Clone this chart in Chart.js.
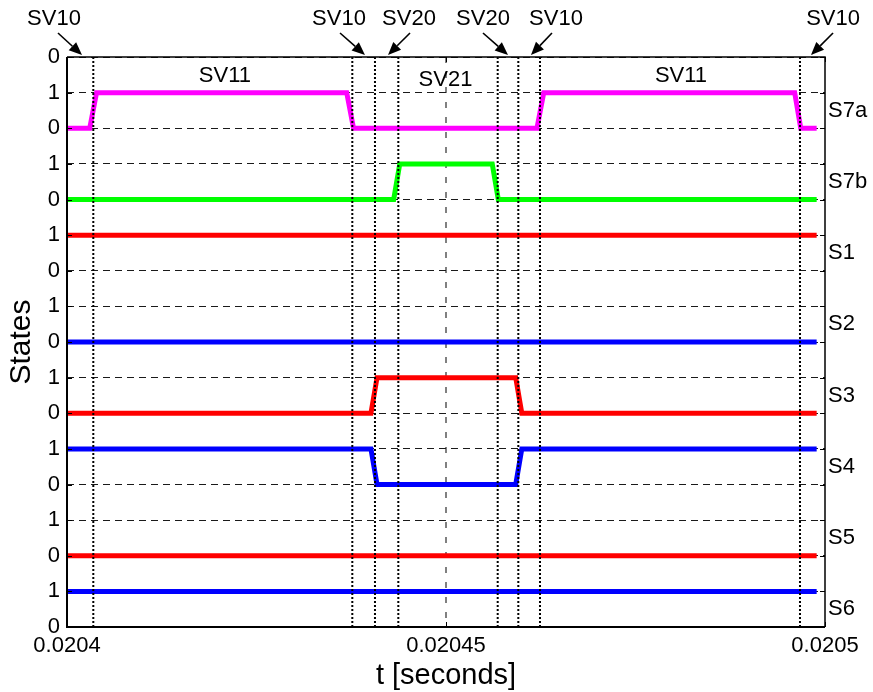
<!DOCTYPE html>
<html>
<head>
<meta charset="utf-8">
<script src="https://cdn.jsdelivr.net/npm/chart.js@4/dist/chart.umd.min.js"></script>
<style>
  html, body { margin: 0; padding: 0; background: #fff; }
  #wrap { width: 873px; height: 692px; }
</style>
</head>
<body>
<div id="wrap"><canvas id="c" width="873" height="692"></canvas></div>
<script>
// ---- axis ticks ----
const xTickValues = [0.0204, 0.02045, 0.0205];
const xTickLabels = ['0.0204', '0.02045', '0.0205'];
const yTickLabels = ['0','1','0','1','0','1','0','1','0','1','0','1','0','1','0','1','0'];

// ---- switching signals: sample times [s] and logic states ----
const signalNames = ['S7a', 'S7b', 'S1', 'S2', 'S3', 'S4', 'S5', 'S6'];
const signalBase  = [14, 12, 10, 8, 6, 4, 2, 0];

const tS7a = [0.0204, 0.0204030, 0.0204039, 0.0204369, 0.0204378, 0.0204620, 0.0204629, 0.0204960, 0.0204968, 0.0204989];
const vS7a = [0, 0, 1, 1, 0, 0, 1, 1, 0, 0];
const tS7b = [0.0204, 0.0204431, 0.0204439, 0.0204561, 0.0204569, 0.0204989];
const vS7b = [0, 0, 1, 1, 0, 0];
const tS1  = [0.0204, 0.0204989];
const vS1  = [1, 1];
const tS2  = [0.0204, 0.0204989];
const vS2  = [0, 0];
const tS3  = [0.0204, 0.0204401, 0.0204409, 0.0204592, 0.0204600, 0.0204989];
const vS3  = [0, 0, 1, 1, 0, 0];
const tS4  = [0.0204, 0.0204401, 0.0204409, 0.0204592, 0.0204600, 0.0204989];
const vS4  = [1, 1, 0, 0, 1, 1];
const tS5  = [0.0204, 0.0204989];
const vS5  = [0, 0];
const tS6  = [0.0204, 0.0204989];
const vS6  = [1, 1];

// switching instants between space vectors
const switchTimes = [0.02040347, 0.02043764, 0.02044063, 0.02044371, 0.02045682, 0.02045954, 0.0204624, 0.0204967];

// ---- styling ----
const signalColors = ['#ff00ff', '#00ff00', '#ff0000', '#0000ff', '#ff0000', '#0000ff', '#ff0000', '#0000ff'];
const FONT = "'Liberation Sans', Arial, sans-serif";

const signalTimes  = [tS7a, tS7b, tS1, tS2, tS3, tS4, tS5, tS6];
const signalStates = [vS7a, vS7b, vS1, vS2, vS3, vS4, vS5, vS6];

const datasets = [];
switchTimes.forEach(t => {
  datasets.push({
    data: [{ x: t, y: 0 }, { x: t, y: 16 }],
    borderColor: '#000', borderWidth: 2, borderDash: [2, 2],
    pointRadius: 0, order: 0
  });
});
signalNames.forEach((name, i) => {
  datasets.push({
    label: name,
    data: signalTimes[i].map((t, k) => ({ x: t, y: signalBase[i] + signalStates[i][k] })),
    borderColor: signalColors[i], borderWidth: 5,
    borderJoinStyle: 'miter', borderCapStyle: 'butt',
    pointRadius: 0, tension: 0, order: 1
  });
});

// text annotations
const regionText = [
  { text: 'SV11', t: 0.02042084, y: 15.47 },
  { text: 'SV21', t: 0.02044993, y: 15.35 },
  { text: 'SV11', t: 0.0204810,  y: 15.47 }
];
const vectorArrows = [
  { text: 'SV10', textT: 0.02039828, tailT: 0.02039881, tipT: 0.02040198 },
  { text: 'SV10', textT: 0.02043588, tailT: 0.02043602, tipT: 0.02043931 },
  { text: 'SV20', textT: 0.02044512, tailT: 0.02044525, tipT: 0.02044235 },
  { text: 'SV20', textT: 0.02045488, tailT: 0.02045488, tipT: 0.02045818 },
  { text: 'SV10', textT: 0.02046451, tailT: 0.02046398, tipT: 0.02046121 },
  { text: 'SV10', textT: 0.02050106, tailT: 0.02050106, tipT: 0.02049815 }
];

function arrow(ctx, x1, y1, x2, y2) {
  const a = Math.atan2(y2 - y1, x2 - x1);
  const L = 13, W = 5.5;
  ctx.beginPath();
  ctx.moveTo(x1, y1);
  ctx.lineTo(x2 - L * Math.cos(a), y2 - L * Math.sin(a));
  ctx.lineWidth = 1.6; ctx.strokeStyle = '#000'; ctx.stroke();
  ctx.beginPath();
  ctx.moveTo(x2, y2);
  ctx.lineTo(x2 - L * Math.cos(a) + W * Math.sin(a), y2 - L * Math.sin(a) - W * Math.cos(a));
  ctx.lineTo(x2 - L * Math.cos(a) - W * Math.sin(a), y2 - L * Math.sin(a) + W * Math.cos(a));
  ctx.closePath(); ctx.fillStyle = '#000'; ctx.fill();
}

const decor = {
  id: 'decor',
  afterDatasetsDraw(chart) {
    const { ctx, chartArea: a, scales: { x, y } } = chart;
    ctx.save();
    // inward ticks
    ctx.strokeStyle = '#000'; ctx.lineWidth = 1;
    y.ticks.forEach(tk => {
      const py = Math.round(y.getPixelForValue(tk.value)) + 0.5;
      ctx.beginPath();
      ctx.moveTo(a.left, py); ctx.lineTo(a.left + 5, py);
      ctx.moveTo(a.right, py); ctx.lineTo(a.right - 5, py);
      ctx.stroke();
    });
    x.ticks.forEach(tk => {
      const px = Math.round(x.getPixelForValue(tk.value)) + 0.5;
      ctx.beginPath();
      ctx.moveTo(px, a.bottom); ctx.lineTo(px, a.bottom - 5);
      ctx.moveTo(px, a.top); ctx.lineTo(px, a.top + 5);
      ctx.stroke();
    });
    // frame
    ctx.lineWidth = 2; ctx.strokeStyle = '#000';
    ctx.beginPath();
    ctx.moveTo(a.left, a.top); ctx.lineTo(a.left, a.bottom); ctx.lineTo(a.right, a.bottom);
    ctx.stroke();
    ctx.lineWidth = 1.5;
    ctx.beginPath();
    ctx.moveTo(a.left, a.top); ctx.lineTo(a.right, a.top); ctx.lineTo(a.right, a.bottom);
    ctx.stroke();

    ctx.fillStyle = '#000';
    ctx.font = '22px ' + FONT;
    ctx.textBaseline = 'middle';
    // signal names on the right
    ctx.textAlign = 'left';
    signalNames.forEach((n, i) => {
      ctx.fillText(n, a.right + 3, y.getPixelForValue(signalBase[i] + 0.5));
    });
    // space vector regions
    ctx.textAlign = 'center';
    regionText.forEach(r => ctx.fillText(r.text, x.getPixelForValue(r.t), y.getPixelForValue(r.y)));
    // space vector arrows above the axes
    vectorArrows.forEach(v => {
      ctx.fillText(v.text, x.getPixelForValue(v.textT), a.top - 38);
      arrow(ctx, x.getPixelForValue(v.tailT), a.top - 24, x.getPixelForValue(v.tipT), a.top - 2);
    });
    ctx.restore();
  }
};

new Chart(document.getElementById('c'), {
  type: 'line',
  data: { datasets },
  plugins: [decor],
  options: {
    responsive: false,
    animation: false,
    events: [],
    layout: { padding: { top: 57, right: 48, left: 0, bottom: 0 } },
    plugins: { legend: { display: false }, tooltip: { enabled: false } },
    scales: {
      x: {
        type: 'linear', min: 0.0204, max: 0.0205,
        afterBuildTicks: s => { s.ticks = xTickValues.map(v => ({ value: v })); },
        afterFit: s => { s.height = 65; },
        ticks: {
          padding: 6, color: '#000', maxRotation: 0, autoSkip: false,
          font: { family: FONT, size: 22, lineHeight: 1.2 },
          callback: (v, i) => xTickLabels[i]
        },
        grid: {
          drawTicks: false, lineWidth: 2,
          color: c => (c.tick && Math.abs(c.tick.value - 0.02045) < 1e-9) ? '#808080' : 'rgba(0,0,0,0)'
        },
        border: { display: false, dash: [6, 9] },
        title: {
          display: true, text: 't [seconds]', color: '#000',
          font: { family: FONT, size: 29, lineHeight: 1 }, padding: { top: 0, bottom: 2 }
        }
      },
      y: {
        type: 'linear', min: 0, max: 16,
        afterFit: s => { s.width = 67; },
        ticks: {
          stepSize: 1, padding: 7, color: '#000', autoSkip: false,
          font: { family: FONT, size: 22 },
          callback: v => yTickLabels[v]
        },
        grid: { drawTicks: false, lineWidth: 1, color: '#1a1a1a' },
        border: { display: false, dash: [7, 5] },
        title: {
          display: true, text: 'States', color: '#000',
          font: { family: FONT, size: 30, lineHeight: 1 }, padding: { top: 7, bottom: 0 }
        }
      }
    }
  }
});
</script>
</body>
</html>
